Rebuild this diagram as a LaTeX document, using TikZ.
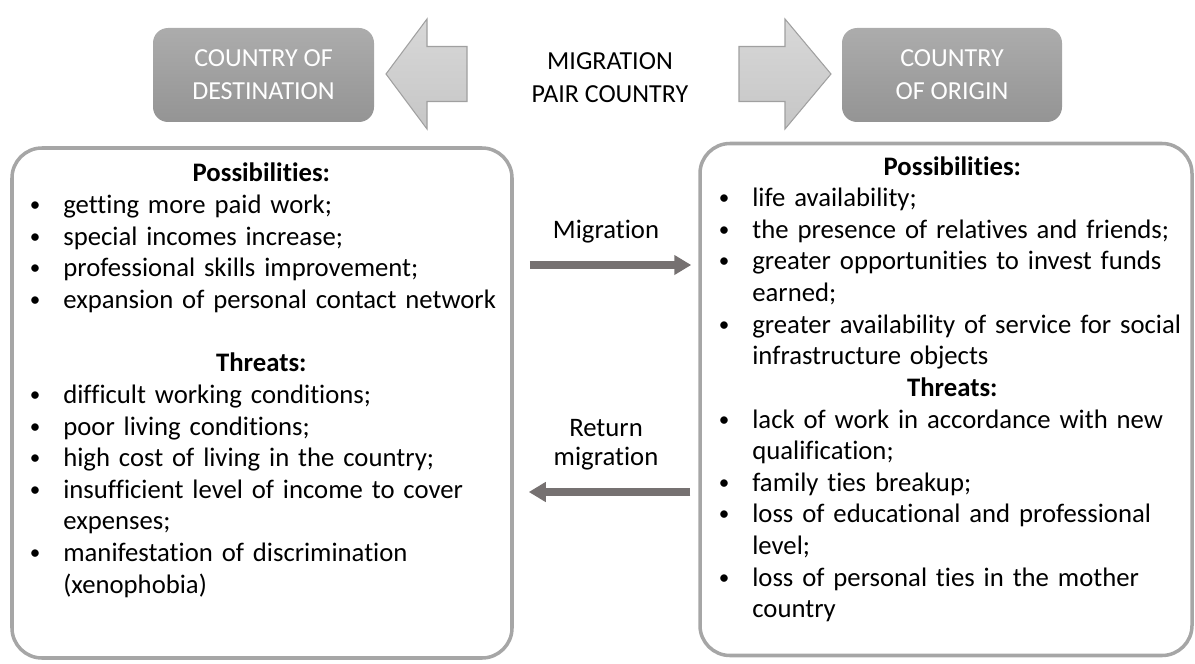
\documentclass[tikz,border=0pt]{standalone}
\usepackage{fontspec}
\setmainfont{Carlito}[Ligatures=NoCommon]
\usepackage{enumitem}
\usetikzlibrary{
    positioning,
    calc,
    arrows.meta,
}
\definecolor{panelgray}{RGB}{166,166,166}
\definecolor{flowgray}{RGB}{118,113,113}
\definecolor{headtop}{RGB}{172,172,172}
\definecolor{headbottom}{RGB}{148,148,148}
\definecolor{blocktop}{RGB}{216,216,216}
\definecolor{blockbottom}{RGB}{198,198,198}
\definecolor{blockline}{RGB}{160,160,160}

\setlist[itemize]{label={\fontsize{12}{12}\selectfont\raisebox{0.2ex}{\textbullet}},
    leftmargin=0.7cm, rightmargin=-0.6cm, labelsep=0.46cm, before=\raggedright,
    itemsep=0pt, topsep=0pt, parsep=0pt, partopsep=0pt}

\begin{document}
\begin{tikzpicture}[
    country/.style={rounded corners=0.3cm, top color=headtop, bottom color=headbottom,
                text=white, align=center, minimum width=4.42cm, minimum height=1.88cm,
                font=\fontsize{14.8}{18.8}\selectfont},
    blockarrow/.style={draw=blockline, line width=0.6pt, top color=blocktop, bottom color=blockbottom},
    panel/.style={draw=panelgray, line width=2pt, rounded corners=0.6cm},
    listtext/.style={anchor=base west, inner sep=0pt, align=left,
                font=\fontsize{15.2}{18}\selectfont},
    flow/.style={draw=flowgray, line width=4pt, -{Triangle[length=0.34cm,width=0.38cm]}},
    flowlabel/.style={align=center, inner sep=0pt, font=\fontsize{15.2}{17}\selectfont},
]
\useasboundingbox (0,0) rectangle (23.9,-13.28);

% Countries
\node[country] (destBox) at (5.27,-1.5) {COUNTRY OF\\DESTINATION};
\node[country, minimum width=4.40cm] (originBox) at (19.04,-1.5) {COUNTRY\\OF ORIGIN};
\node[align=center, font=\fontsize{14.8}{18.8}\selectfont] (pairText) at (12.2,-1.55) {MIGRATION\\PAIR COUNTRY};

% Direction arrows
\draw[blockarrow] (7.72,-1.48) -- (8.54,-0.38) -- (8.54,-0.93) -- (9.34,-0.93)
    -- (9.34,-2.03) -- (8.54,-2.03) -- (8.54,-2.58) -- cycle;
\draw[blockarrow] (14.78,-0.93) -- (15.70,-0.93) -- (15.70,-0.38) -- (16.62,-1.48)
    -- (15.70,-2.58) -- (15.70,-2.03) -- (14.78,-2.03) -- cycle;

% Panels
\node[panel, minimum width=10cm, minimum height=10.2cm] (destPanel) at (5.24,-8.06) {};
\node[panel, minimum width=9.84cm, minimum height=10.24cm] (originPanel) at (18.92,-7.99) {};

% Destination side
\node[listtext, text width=9.32cm] (destText) at (0.56,-3.64) {
    {\centering\textbf{Possibilities:}\par}
    \begin{itemize}
        \item getting more paid work;
        \item special incomes increase;
        \item professional skills improvement;
        \item expansion of personal contact network
    \end{itemize}
    \vspace{\baselineskip}
    {\centering\textbf{Threats:}\par}
    \begin{itemize}
        \item difficult working conditions;
        \item poor living conditions;
        \item high cost of living in the country;
        \item insufficient level of income to cover\newline expenses;
        \item manifestation of discrimination\newline (xenophobia)
    \end{itemize}
};

% Origin side
\node[listtext, text width=9.4cm] (originText) at (14.34,-3.5) {
    {\centering\textbf{Possibilities:}\par}
    \begin{itemize}
        \item life availability;
        \item the presence of relatives and friends;
        \item greater opportunities to invest funds\newline earned;
        \item greater availability of service for social\newline infrastructure objects
    \end{itemize}
    {\centering\textbf{Threats:}\par}
    \begin{itemize}
        \item lack of work in accordance with new\newline qualification;
        \item family ties breakup;
        \item loss of educational and professional\newline level;
        \item loss of personal ties in the mother\newline country
    \end{itemize}
};

% Flows
\coordinate (migY) at (0,-5.3);
\coordinate (retY) at (0,-9.84);
\draw[flow, shorten <=0.32cm, shorten >=0.14cm] (destPanel.east |- migY)
    -- node[flowlabel, above=0.36cm] (migLabel) {Migration} (originPanel.west |- migY);
\draw[flow, shorten <=0.16cm, shorten >=0.30cm] (originPanel.west |- retY)
    -- node[flowlabel, above=0.36cm] (retLabel) {Return\\migration} (destPanel.east |- retY);

\end{tikzpicture}
\end{document}
